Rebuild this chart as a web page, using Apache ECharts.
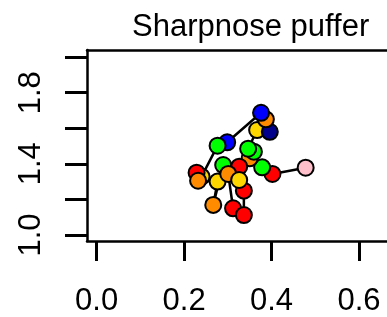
<!DOCTYPE html>
<html>
<head>
<meta charset="utf-8">
<script src="https://cdn.jsdelivr.net/npm/echarts@6/dist/echarts.min.js"></script>
<style>html,body{margin:0;padding:0;background:#fff}#c{width:387px;height:317px}</style>
</head>
<body>
<div id="c"></div>
<script>
// Trajectory points in path order
const xs = [0.478, 0.402, 0.3785, 0.350, 0.3596, 0.3465, 0.367, 0.396, 0.387, 0.376, 0.2985, 0.2766,
            0.240, 0.2286, 0.232, 0.2766, 0.2667, 0.2894, 0.326, 0.301, 0.312, 0.3367, 0.3367, 0.326];
const ys = [1.378, 1.343, 1.380, 1.431, 1.468, 1.485, 1.590, 1.580, 1.650, 1.687, 1.521, 1.502,
            1.328, 1.350, 1.305, 1.300, 1.169, 1.393, 1.384, 1.343, 1.150, 1.112, 1.249, 1.309];
const colors = ['#FFC0CB', '#FF0000', '#00FF00', '#FF8C00', '#00FF00', '#00FF00', '#FFD700', '#00008B',
                '#FF8C00', '#0000FF', '#0000FF', '#00FF00', '#FFD700', '#FF0000', '#FF8C00', '#FFD700',
                '#FF8C00', '#00FF00', '#FF0000', '#FF8C00', '#FF0000', '#FF0000', '#FF0000', '#FFD700'];
const xTicks = [0, 0.2, 0.4, 0.6];
const xLabels = [0, 0.2, 0.4, 0.6];
const yTicks = [1.0, 1.2, 1.4, 1.6, 1.8, 2.0];
const yLabels = [1.0, 1.4, 1.8];
const title = 'Sharpnose puffer';

const pts = xs.map((x, i) => [x, ys[i]]);
const FONT = '"Liberation Sans", Arial, Helvetica, sans-serif';
const X_MIN = -0.022, X_MAX = 0.664;

const chart = echarts.init(document.getElementById('c'), null, {renderer: 'canvas'});
chart.setOption({
  animation: false,
  title: {
    text: title, left: 127, top: 7,
    textStyle: {fontFamily: FONT, fontSize: 31, fontWeight: 'normal', color: '#000'}
  },
  grid: {left: 87, top: 50, right: 0, bottom: 76, show: false},
  xAxis: [{
    type: 'value', min: X_MIN, max: X_MAX, position: 'bottom',
    splitLine: {show: false},
    axisLine: {show: true, onZero: false, lineStyle: {color: '#000', width: 2.5}},
    axisTick: {show: true, length: 20, lineStyle: {color: '#000', width: 3}, customValues: xTicks},
    axisLabel: {
      customValues: xLabels, margin: 45,
      fontFamily: FONT, fontSize: 31, color: '#000',
      formatter: v => v.toFixed(1)
    }
  }, {
    type: 'value', min: X_MIN, max: X_MAX, position: 'top',
    splitLine: {show: false},
    axisLine: {show: true, onZero: false, lineStyle: {color: '#000', width: 2.5}},
    axisTick: {show: false}, axisLabel: {show: false}
  }],
  yAxis: {
    type: 'value', min: 0.966, max: 2.04,
    splitLine: {show: false},
    axisLine: {show: true, onZero: false, lineStyle: {color: '#000', width: 2.5}},
    axisTick: {show: true, length: 22, lineStyle: {color: '#000', width: 3}, customValues: yTicks},
    axisLabel: {
      customValues: yLabels, margin: 40, rotate: 90,
      fontFamily: FONT, fontSize: 31, color: '#000',
      formatter: v => v.toFixed(1)
    }
  },
  series: [
    {
      type: 'line', data: pts, showSymbol: false, symbol: 'none',
      lineStyle: {color: '#000', width: 2.5}, z: 2
    },
    {
      type: 'scatter', data: pts.map((p, i) => ({value: p, itemStyle: {color: colors[i]}})),
      symbolSize: 16,
      itemStyle: {borderColor: '#000', borderWidth: 2, opacity: 1},
      z: 3
    }
  ]
});
</script>
</body>
</html>
